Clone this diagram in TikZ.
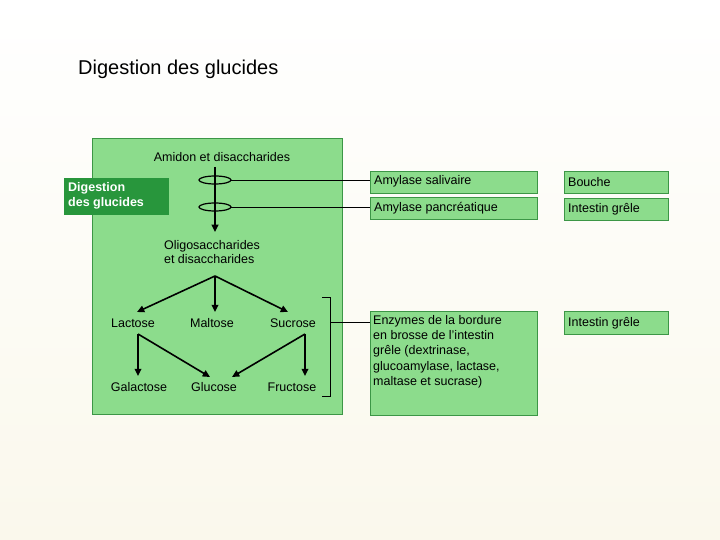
\documentclass[tikz,border=0pt]{standalone}
\usepackage{fontspec}
\setmainfont{Liberation Sans}
\usetikzlibrary{arrows.meta}
\definecolor{cream}{RGB}{250,248,236}
\definecolor{boxgreen}{RGB}{140,220,140}
\definecolor{edgegreen}{RGB}{60,150,70}
\definecolor{darkgreen}{RGB}{40,150,60}
\tikzset{%
  tipA/.tip={Triangle[angle=50:8pt]},
  lbl/.style={font=\fontsize{12.5}{14.5}\selectfont, align=left, inner sep=1pt},
  gbox/.style={draw=edgegreen, fill=boxgreen, line width=0.8pt},
  flow/.style={line width=1.6pt, -tipA},
}
\begin{document}
\begin{tikzpicture}[x=1pt,y=-1pt]
\fill[top color=white, bottom color=cream] (0,0) rectangle (720,540);
\useasboundingbox (0,0) rectangle (720,540);
\node[anchor=west, font=\fontsize{20}{22}\selectfont, inner sep=0pt] (title) at (78,69) {Digestion des glucides};
% main panel
\draw[gbox] (92,138) rectangle (342,414);
\draw[fill=darkgreen, draw=darkgreen] (64,178) rectangle (168,214);
\node[anchor=west, text=white, font=\fontsize{12.5}{15}\selectfont\bfseries, align=left, inner sep=0pt] (tag) at (68,196) {Digestion\\des glucides};
% right boxes
\draw[gbox] (370,171) rectangle (537,193);
\draw[gbox] (370,197) rectangle (537,219);
\draw[gbox] (564,171) rectangle (668,193);
\draw[gbox] (564,198) rectangle (668,220);
\draw[gbox] (370,311) rectangle (537,415);
\draw[gbox] (564,311) rectangle (668,334);
\node[lbl, anchor=west] (amys) at (373,181) {Amylase salivaire};
\node[lbl, anchor=west] (amyp) at (373,208) {Amylase pancréatique};
\node[lbl, anchor=west] (bouche) at (567,182) {Bouche};
\node[lbl, anchor=west] (ig1) at (567,209) {Intestin grêle};
\node[lbl, anchor=north west, font=\fontsize{12.5}{15.3}\selectfont] (enz) at (372,314) {Enzymes de la bordure\\en brosse de l'intestin\\grêle (dextrinase,\\glucoamylase, lactase,\\maltase et sucrase)};
\node[lbl, anchor=west] (ig2) at (567,323) {Intestin grêle};
% nodes
\node[lbl] (amidon) at (222,157) {Amidon et disaccharides};
\node[lbl] (oligo) at (212,252) {Oligosaccharides\\et disaccharides};
\node[lbl] (lac) at (133,323) {Lactose};
\node[lbl] (mal) at (212,323) {Maltose};
\node[lbl] (suc) at (293,323) {Sucrose};
\node[lbl] (gal) at (139,387) {Galactose};
\node[lbl] (glu) at (214,387) {Glucose};
\node[lbl] (fru) at (292,387) {Fructose};
\coordinate (top) at (215,167);
\coordinate (split) at (215,276);
\coordinate (e1) at (370,180);
\coordinate (e2) at (370,207);
\draw[flow] (top) -- (215,232);
\draw[line width=1.2pt] (215,180) ellipse (16 and 4);
\draw[line width=1.2pt] (215,207) ellipse (16 and 4);
\draw[line width=0.8pt] (231,180) -- (e1);
\draw[line width=0.8pt] (231,207) -- (e2);
\draw[flow] (split) -- (137,312);
\draw[flow] (split) -- (215,312);
\draw[flow] (split) -- (288,312);
\draw[flow] (138,334) -- (138,376);
\draw[flow] (138,334) -- (210,377);
\draw[flow] (305,334) -- (305,376);
\draw[flow] (305,334) -- (232,377);
% bracket
\draw[line width=0.9pt] (322,297) -- (330,297) -- (330,396) -- (322,396);
\draw[line width=0.8pt] (330,322) -- (370,322);
\end{tikzpicture}
\end{document}
